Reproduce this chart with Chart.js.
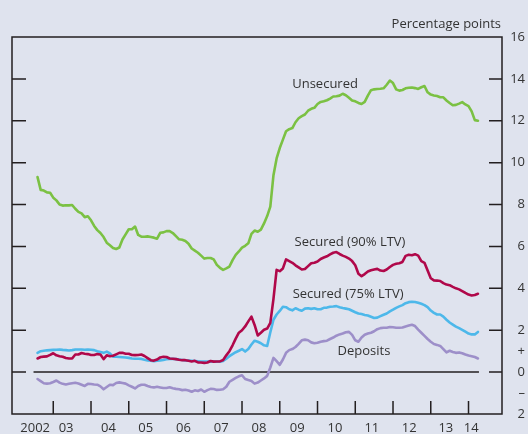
<!DOCTYPE html>
<html>
<head>
<meta charset="utf-8">
<script src="https://cdn.jsdelivr.net/npm/chart.js@4.4.1/dist/chart.umd.min.js"></script>
<style>
  html, body { margin: 0; padding: 0; background: #dfe3ee; }
  #wrap { width: 528px; height: 434px; position: relative; }
</style>
</head>
<body>
<div id="wrap"><canvas id="spreadChart"></canvas></div>
<script>
// monthly observations, Aug 2002 to Apr 2014
const firstMonth = 2002 + 7 / 12;
const months = [];
for (let i = 0; i < 141; i++) months.push(firstMonth + i / 12);

const unsecured = [
    9.31, 8.70, 8.67, 8.58, 8.56, 8.33, 8.20, 8.00, 7.95, 7.97,
    7.96, 7.98, 7.80, 7.65, 7.58, 7.40, 7.44, 7.25, 6.98, 6.78,
    6.64, 6.45, 6.18, 6.06, 5.93, 5.88, 5.95, 6.33, 6.58, 6.82,
    6.82, 6.95, 6.55, 6.47, 6.46, 6.48, 6.45, 6.42, 6.37, 6.65,
    6.67, 6.73, 6.73, 6.64, 6.49, 6.34, 6.32, 6.26, 6.13, 5.90,
    5.80, 5.70, 5.56, 5.42, 5.45, 5.45, 5.38, 5.12, 4.98, 4.88,
    4.95, 5.04, 5.35, 5.60, 5.76, 5.94, 6.03, 6.15, 6.60, 6.76,
    6.70, 6.80, 7.10, 7.45, 7.90, 9.40, 10.20, 10.70, 11.10, 11.50,
    11.60, 11.65, 11.93, 12.12, 12.22, 12.30, 12.48, 12.57, 12.62, 12.80,
    12.90, 12.93, 12.98, 13.06, 13.16, 13.17, 13.20, 13.29, 13.22, 13.10,
    12.97, 12.93, 12.85, 12.80, 12.90, 13.20, 13.46, 13.50, 13.52, 13.53,
    13.55, 13.72, 13.92, 13.80, 13.50, 13.44, 13.47, 13.55, 13.58, 13.59,
    13.56, 13.52, 13.60, 13.66, 13.36, 13.25, 13.21, 13.18, 13.12, 13.12,
    12.97, 12.85, 12.74, 12.76, 12.82, 12.89, 12.78, 12.70, 12.45, 12.03,
    12.00
];
const secured90 = [
    0.65, 0.72, 0.74, 0.75, 0.82, 0.90, 0.80, 0.76, 0.73, 0.67,
    0.65, 0.65, 0.84, 0.84, 0.91, 0.88, 0.86, 0.82, 0.82, 0.86,
    0.84, 0.62, 0.80, 0.76, 0.78, 0.85, 0.92, 0.92, 0.88, 0.88,
    0.82, 0.81, 0.82, 0.84, 0.77, 0.67, 0.57, 0.55, 0.60, 0.70,
    0.73, 0.72, 0.65, 0.64, 0.62, 0.59, 0.57, 0.57, 0.54, 0.51,
    0.54, 0.46, 0.46, 0.44, 0.46, 0.53, 0.50, 0.51, 0.51, 0.58,
    0.80, 1.00, 1.28, 1.60, 1.88, 2.00, 2.18, 2.42, 2.65, 2.25,
    1.75, 1.88, 2.02, 2.08, 2.35, 3.50, 4.88, 4.82, 4.95, 5.38,
    5.30, 5.22, 5.10, 5.00, 4.90, 4.92, 5.06, 5.20, 5.22, 5.28,
    5.40, 5.47, 5.53, 5.62, 5.70, 5.73, 5.64, 5.56, 5.50, 5.42,
    5.30, 5.10, 4.70, 4.58, 4.68, 4.80, 4.86, 4.90, 4.93, 4.85,
    4.83, 4.90, 5.02, 5.12, 5.17, 5.20, 5.26, 5.55, 5.60, 5.58,
    5.63, 5.56, 5.30, 5.22, 4.85, 4.48, 4.38, 4.37, 4.35, 4.25,
    4.18, 4.15, 4.07, 4.00, 3.95, 3.87, 3.78, 3.70, 3.66, 3.68,
    3.74
];
const secured75 = [
    0.92, 1.00, 1.02, 1.04, 1.05, 1.06, 1.07, 1.08, 1.06, 1.05,
    1.03, 1.05, 1.08, 1.08, 1.08, 1.07, 1.08, 1.07, 1.05, 1.00,
    0.96, 0.92, 0.98, 0.89, 0.74, 0.73, 0.72, 0.71, 0.70, 0.68,
    0.65, 0.64, 0.64, 0.63, 0.59, 0.56, 0.54, 0.52, 0.54, 0.56,
    0.58, 0.61, 0.63, 0.64, 0.62, 0.60, 0.58, 0.56, 0.55, 0.54,
    0.53, 0.52, 0.51, 0.51, 0.51, 0.50, 0.50, 0.50, 0.50, 0.53,
    0.64, 0.76, 0.86, 0.95, 1.02, 1.10, 0.98, 1.10, 1.32, 1.50,
    1.45, 1.38, 1.28, 1.25, 1.90, 2.50, 2.75, 2.92, 3.12, 3.10,
    3.00, 2.95, 3.05, 2.98, 2.93, 3.03, 3.05, 3.02, 3.05, 3.00,
    3.00, 3.07, 3.08, 3.12, 3.13, 3.15, 3.10, 3.06, 3.03, 3.00,
    2.93, 2.86, 2.80, 2.77, 2.73, 2.70, 2.64, 2.58, 2.60, 2.67,
    2.74, 2.80, 2.90, 2.98, 3.07, 3.14, 3.20, 3.29, 3.34, 3.36,
    3.35, 3.31, 3.26, 3.20, 3.10, 2.94, 2.83, 2.75, 2.75, 2.65,
    2.50, 2.37, 2.27, 2.17, 2.10, 2.02, 1.93, 1.84, 1.80, 1.80,
    1.92
];
const deposits = [
    -0.33, -0.43, -0.53, -0.55, -0.53, -0.47, -0.40, -0.50, -0.56, -0.59,
    -0.56, -0.53, -0.51, -0.54, -0.60, -0.66, -0.56, -0.57, -0.59, -0.60,
    -0.68, -0.82, -0.71, -0.60, -0.62, -0.52, -0.49, -0.52, -0.55, -0.63,
    -0.70, -0.78, -0.66, -0.60, -0.60, -0.66, -0.71, -0.73, -0.70, -0.73,
    -0.76, -0.76, -0.72, -0.77, -0.80, -0.82, -0.86, -0.84, -0.88, -0.94,
    -0.87, -0.90, -0.83, -0.94, -0.86, -0.80, -0.81, -0.85, -0.84, -0.82,
    -0.70, -0.46, -0.37, -0.28, -0.20, -0.15, -0.33, -0.38, -0.42, -0.55,
    -0.50, -0.40, -0.30, -0.18, 0.22, 0.68, 0.52, 0.35, 0.60, 0.92,
    1.05, 1.10, 1.20, 1.35, 1.52, 1.55, 1.52, 1.42, 1.38, 1.40,
    1.45, 1.48, 1.50, 1.58, 1.65, 1.74, 1.80, 1.84, 1.90, 1.92,
    1.78, 1.52, 1.45, 1.65, 1.78, 1.84, 1.88, 1.95, 2.05, 2.10,
    2.12, 2.12, 2.15, 2.14, 2.12, 2.12, 2.13, 2.18, 2.22, 2.26,
    2.20, 2.03, 1.88, 1.73, 1.58, 1.45, 1.34, 1.30, 1.25, 1.10,
    0.94, 1.02, 0.96, 0.92, 0.94, 0.90, 0.84, 0.79, 0.76, 0.72,
    0.65
];

// x axis: year boundaries get tick marks, labels sit inside the years
const yearTicks = [2003, 2004, 2005, 2006, 2007, 2008, 2009, 2010, 2011, 2012, 2013, 2014];
const yearLabels = ['2002', '03', '04', '05', '06', '07', '08', '09', '10', '11', '12', '13', '14'];
const yearLabelPos = [2002.52, 2003.34, 2004.46, 2005.45, 2006.45, 2007.45, 2008.45,
                      2009.46, 2010.46, 2011.44, 2012.43, 2013.40, 2014.07];
const sideTicks = [0, 2, 4, 6, 8, 10, 12, 14];

const seriesNotes = [
    { text: 'Unsecured', x: 2010.2, y: 13.76 },
    { text: 'Secured (90% LTV)', x: 2010.86, y: 6.18 },
    { text: 'Secured (75% LTV)', x: 2010.81, y: 3.70 },
    { text: 'Deposits', x: 2011.23, y: 0.99 }
];

const ink = '#231f20';
const textColor = '#333333';
Chart.defaults.font.family = "'Open Sans', sans-serif";
Chart.defaults.font.size = 13;
Chart.defaults.color = textColor;

const toPoints = vals => months.map((m, i) => ({ x: m, y: vals[i] }));

const framePlugin = {
    id: 'frame',
    beforeDatasetsDraw(chart) {
        const { ctx, scales: { x, y } } = chart;
        const y0 = y.getPixelForValue(0);
        ctx.save();
        ctx.strokeStyle = ink;
        ctx.lineWidth = 1.5;
        ctx.beginPath();
        ctx.moveTo(x.getPixelForValue(months[0]) - 4, y0);
        ctx.lineTo(x.getPixelForValue(months[months.length - 1]) + 1, y0);
        ctx.stroke();
        ctx.restore();
    },
    afterDatasetsDraw(chart) {
        const { ctx, chartArea: a, scales: { x, y } } = chart;
        ctx.save();
        ctx.strokeStyle = ink;
        ctx.lineWidth = 1.5;
        ctx.strokeRect(a.left, a.top, a.right - a.left, a.bottom - a.top);

        ctx.beginPath();
        sideTicks.forEach(v => {
            const py = y.getPixelForValue(v);
            ctx.moveTo(a.left, py);
            ctx.lineTo(a.left + 14, py);
            ctx.moveTo(a.right - 13, py);
            ctx.lineTo(a.right, py);
        });
        yearTicks.forEach(v => {
            const px = x.getPixelForValue(v);
            ctx.moveTo(px, a.bottom);
            ctx.lineTo(px, a.bottom - 13);
        });
        ctx.stroke();

        ctx.fillStyle = textColor;
        ctx.font = "13px 'Open Sans', sans-serif";
        ctx.textAlign = 'center';
        ctx.textBaseline = 'middle';
        seriesNotes.forEach(n => {
            ctx.fillText(n.text, x.getPixelForValue(n.x), y.getPixelForValue(n.y));
        });

        ctx.textAlign = 'right';
        ctx.fillText('Percentage points', a.right - 1, 24);
        ctx.restore();
    }
};

new Chart(document.getElementById('spreadChart'), {
    type: 'line',
    data: {
        datasets: [
            { label: 'Unsecured', data: toPoints(unsecured), borderColor: '#7bc143' },
            { label: 'Secured (90% LTV)', data: toPoints(secured90), borderColor: '#b0084a' },
            { label: 'Secured (75% LTV)', data: toPoints(secured75), borderColor: '#4db8ea' },
            { label: 'Deposits', data: toPoints(deposits), borderColor: '#9d8fc9' }
        ]
    },
    options: {
        responsive: true,
        maintainAspectRatio: false,
        animation: false,
        layout: { padding: { left: 12, top: 37, right: 3, bottom: 0 } },
        elements: {
            point: { radius: 0 },
            line: { borderWidth: 2.6, tension: 0, borderJoinStyle: 'round', borderCapStyle: 'round' }
        },
        plugins: { legend: { display: false }, tooltip: { enabled: false } },
        scales: {
            x: {
                type: 'linear',
                min: 2001.907,
                max: 2014.887,
                grid: { display: false, drawTicks: false },
                border: { display: false },
                afterBuildTicks: s => { s.ticks = yearLabelPos.map(v => ({ value: v })); },
                afterFit: s => { s.height = 20; },
                ticks: {
                    autoSkip: false,
                    maxRotation: 0,
                    padding: 6,
                    callback: (v, i) => yearLabels[i]
                }
            },
            y: {
                position: 'right',
                min: -2,
                max: 16,
                grid: { display: false, drawTicks: false },
                border: { display: false },
                afterFit: s => { s.width = 23; },
                ticks: {
                    stepSize: 1,
                    autoSkip: false,
                    crossAlign: 'far',
                    callback: v => {
                        if (v === 1) return '+';
                        if (v === -1) return '\u2013';
                        return v % 2 === 0 ? String(Math.abs(v)) : '';
                    }
                }
            }
        }
    },
    plugins: [framePlugin]
});
</script>
</body>
</html>
